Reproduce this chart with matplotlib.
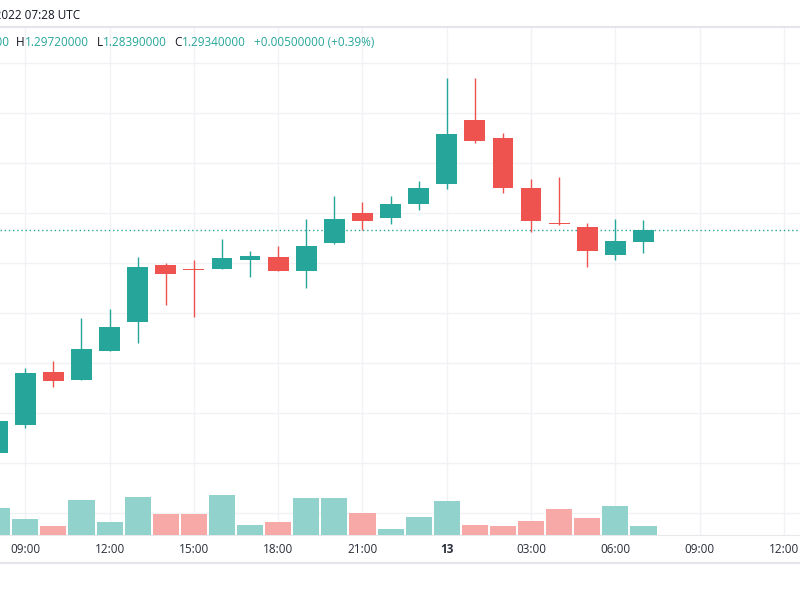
import numpy as np
import pandas as pd
import matplotlib
matplotlib.use("Agg")
import matplotlib.pyplot as plt
import matplotlib.dates as mdates
from matplotlib.ticker import FuncFormatter

# hourly candles
times = ["2022-01-12 08:00", "2022-01-12 09:00", "2022-01-12 10:00", "2022-01-12 11:00",
         "2022-01-12 12:00", "2022-01-12 13:00", "2022-01-12 14:00", "2022-01-12 15:00",
         "2022-01-12 16:00", "2022-01-12 17:00", "2022-01-12 18:00", "2022-01-12 19:00",
         "2022-01-12 20:00", "2022-01-12 21:00", "2022-01-12 22:00", "2022-01-12 23:00",
         "2022-01-13 00:00", "2022-01-13 01:00", "2022-01-13 02:00", "2022-01-13 03:00",
         "2022-01-13 04:00", "2022-01-13 05:00", "2022-01-13 06:00", "2022-01-13 07:00"]
opens = [1.2040, 1.2152, 1.2364, 1.2332, 1.2448, 1.2564, 1.2792, 1.2776, 1.2777, 1.2812, 1.2825, 1.2769,
         1.2881, 1.2999, 1.2980, 1.3035, 1.3116, 1.3372, 1.3299, 1.3101, 1.2957, 1.2944, 1.2831, 1.2884]
highs = [1.2168, 1.2380, 1.2408, 1.2580, 1.2616, 1.2824, 1.2800, 1.2812, 1.2896, 1.2849, 1.2869, 1.2977,
         1.3068, 1.3045, 1.3068, 1.3129, 1.3539, 1.3539, 1.3321, 1.3137, 1.3145, 1.2961, 1.2975, 1.2972]
lows = [1.2040, 1.2140, 1.2304, 1.2332, 1.2448, 1.2480, 1.2632, 1.2584, 1.2776, 1.2744, 1.2769, 1.2700,
        1.2876, 1.2932, 1.2955, 1.3012, 1.3095, 1.3279, 1.3081, 1.2925, 1.2953, 1.2785, 1.2812, 1.2839]
closes = [1.2168, 1.2360, 1.2328, 1.2456, 1.2544, 1.2784, 1.2756, 1.2774, 1.2821, 1.2828, 1.2769, 1.2869,
          1.2977, 1.2967, 1.3035, 1.3100, 1.3316, 1.3289, 1.3101, 1.2968, 1.2955, 1.2848, 1.2887, 1.2934]
volumes = [267, 163, 90, 350, 133, 380, 207, 207, 400, 100, 133, 370,
           370, 217, 57, 183, 340, 100, 90, 143, 257, 170, 290, 90]

header = "13 Jan 2022 07:28 UTC"
ohlc_open = "1.28840000"
ohlc_rest = [("H", "1.29720000"), ("L", "1.28390000"), ("C", "1.29340000"), ("", "+0.00500000 (+0.39%)")]

UP = "#26a69a"
DOWN = "#ef5350"
UP_VOL = "#92d2cc"
DOWN_VOL = "#f7a9a7"
TXT = "#131722"
GRID = "#f0f2f5"

plt.rcParams["font.family"] = ["Open Sans", "DejaVu Sans"]

W, H = 800, 600
fig = plt.figure(figsize=(8, 6), dpi=100)
ax = fig.add_axes([0, 65 / H, 1, (535 - 28) / H])
vax = ax.twinx()

t = mdates.date2num(pd.to_datetime(times).to_pydatetime())
o = np.array(opens)
c = np.array(closes)
up = c >= o
hour = 1 / 24

body_col = np.where(up, UP, DOWN)
body_lo = np.minimum(o, c)
body_h = np.maximum(np.abs(c - o), 0.0004)
ax.vlines(t, lows, highs, colors=body_col, linewidth=1, zorder=3)
ax.bar(t, body_h, bottom=body_lo, width=0.74 * hour, color=body_col, linewidth=0, zorder=4)
ax.axhline(closes[-1], color=UP, linestyle=(0, (1, 2)), linewidth=1, zorder=2)

vax.bar(t, volumes, width=0.93 * hour, color=np.where(up, UP_VOL, DOWN_VOL), linewidth=0)
vax.set_ylim(0, 5070)
vax.set_yticks([])
for s in vax.spines.values():
    s.set_visible(False)

start = pd.Timestamp("2022-01-12 09:00")
ax.set_xlim(mdates.date2num(start - pd.Timedelta(hours=0.9)),
            mdates.date2num(start + pd.Timedelta(hours=27.57)))
ax.set_ylim(1.1712, 1.374)
ax.set_yticks(np.arange(1.18, 1.38, 0.02))
ax.set_yticklabels([])
ax.tick_params(axis="y", length=0)

ax.xaxis.set_major_locator(mdates.HourLocator(byhour=[0, 3, 6, 9, 12, 15, 18, 21]))


def fmt(v, pos):
    d = mdates.num2date(v)
    return str(d.day) if d.hour == 0 else d.strftime("%H:%M")


ax.xaxis.set_major_formatter(FuncFormatter(fmt))
ax.tick_params(axis="x", length=0, pad=6, labelsize=8.5, labelcolor="#2a2e39")
ax.grid(True, color=GRID, linewidth=1, zorder=0)
ax.set_axisbelow(True)
for name, s in ax.spines.items():
    s.set_visible(name == "bottom")
ax.spines["bottom"].set_color("#e6e8ec")

# separators of the header and the time scale
fig.add_artist(plt.Line2D([0, 1], [1 - 27 / H, 1 - 27 / H], color="#e3e5ea", linewidth=1.5))
fig.add_artist(plt.Line2D([0, 1], [1 - 563 / H, 1 - 563 / H], color="#e3e5ea", linewidth=1.5))

fig.text(80 / W, 1 - 15 / H, header, ha="right", va="center", fontsize=8.5, color=TXT)

fig.canvas.draw()
rend = fig.canvas.get_renderer()
ty = 1 - 43 / H
v = fig.text(9.5 / W, ty, ohlc_open, ha="right", va="center", fontsize=8.5, color=UP)
bb = v.get_window_extent(rend)
fig.text(bb.x0 / W, ty, "O", ha="right", va="center", fontsize=8.5, color=TXT)
x = 16
for lab, val in ohlc_rest:
    if lab:
        tl = fig.text(x / W, ty, lab, va="center", fontsize=8.5, color=TXT)
        x = tl.get_window_extent(rend).x1
    tv = fig.text(x / W, ty, val, va="center", fontsize=8.5, color=UP)
    x = tv.get_window_extent(rend).x1 + 8

for lbl in ax.get_xticklabels():
    if lbl.get_text() == "13":
        lbl.set_fontweight("bold")

fig.savefig("out.png", dpi=100)
